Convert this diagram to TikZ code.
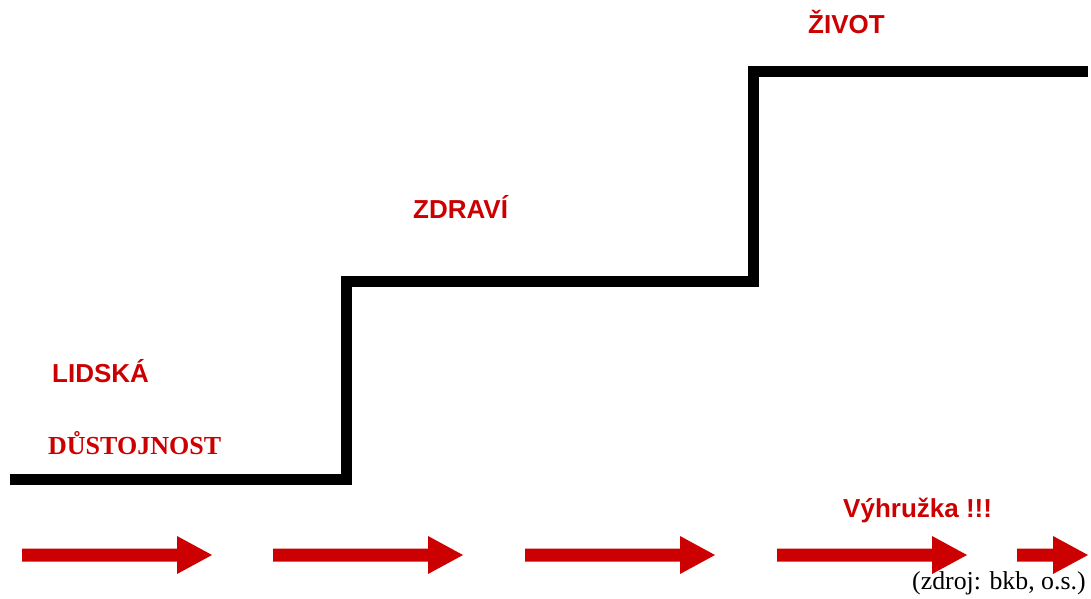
\documentclass[tikz,border=0pt]{standalone}
\usepackage{fontspec}
\setmainfont{Liberation Serif}
\newfontfamily\labelsans{Liberation Sans}
\definecolor{arrowred}{HTML}{CC0000}
\begin{document}
\begin{tikzpicture}[x=1pt,y=-1pt,
  lbl/.style={anchor=base west,inner sep=0pt,text=arrowred,font=\labelsans\bfseries\fontsize{26}{30}\selectfont},
  lblserif/.style={anchor=base west,inner sep=0pt,text=arrowred,font=\rmfamily\bfseries\fontsize{26}{30}\selectfont},
  src/.style={anchor=base west,inner sep=0pt,font=\rmfamily\fontsize{25.8}{30}\selectfont},
  stair/.style={line width=11pt,line join=miter,black},
  redarrow/.pic={\fill[arrowred] (0,-6.5) -- (155,-6.5) -- (155,-19) -- (190,0) -- (155,19) -- (155,6.5) -- (0,6.5) -- cycle;},
  shortarrow/.pic={\fill[arrowred] (0,-6.5) -- (36,-6.5) -- (36,-19) -- (71,0) -- (36,19) -- (36,6.5) -- (0,6.5) -- cycle;}]
\useasboundingbox (0,0) rectangle (1091,598);
% staircase
\coordinate (s0) at (10,479);
\coordinate (s1) at (346,479);
\coordinate (s2) at (346,281);
\coordinate (s3) at (753,281);
\coordinate (s4) at (753,71);
\coordinate (s5) at (1088,71);
\draw[stair] (s0) -- (s1) -- (s2) -- (s3) -- (s4) -- (s5);
% labels
\node[lbl] (zivot) at (808,33) {ŽIVOT};
\node[lbl] (zdravi) at (413,218) {ZDRAVÍ};
\node[lbl] (lidska) at (52,382) {LIDSKÁ};
\node[lblserif] (dustojnost) at (48,454) {DŮSTOJNOST};
\node[lbl] (vyhruzka) at (843,517) {Výhružka !!!};
\node[src] (zdroj) at (912,589) {(zdroj: bkb, o.s.)};
% arrows
\pic (a1) at (22,555) {redarrow};
\pic (a2) at (273,555) {redarrow};
\pic (a3) at (525,555) {redarrow};
\pic (a4) at (777,555) {redarrow};
\pic (a5) at (1017,555) {shortarrow};
\end{tikzpicture}
\end{document}
